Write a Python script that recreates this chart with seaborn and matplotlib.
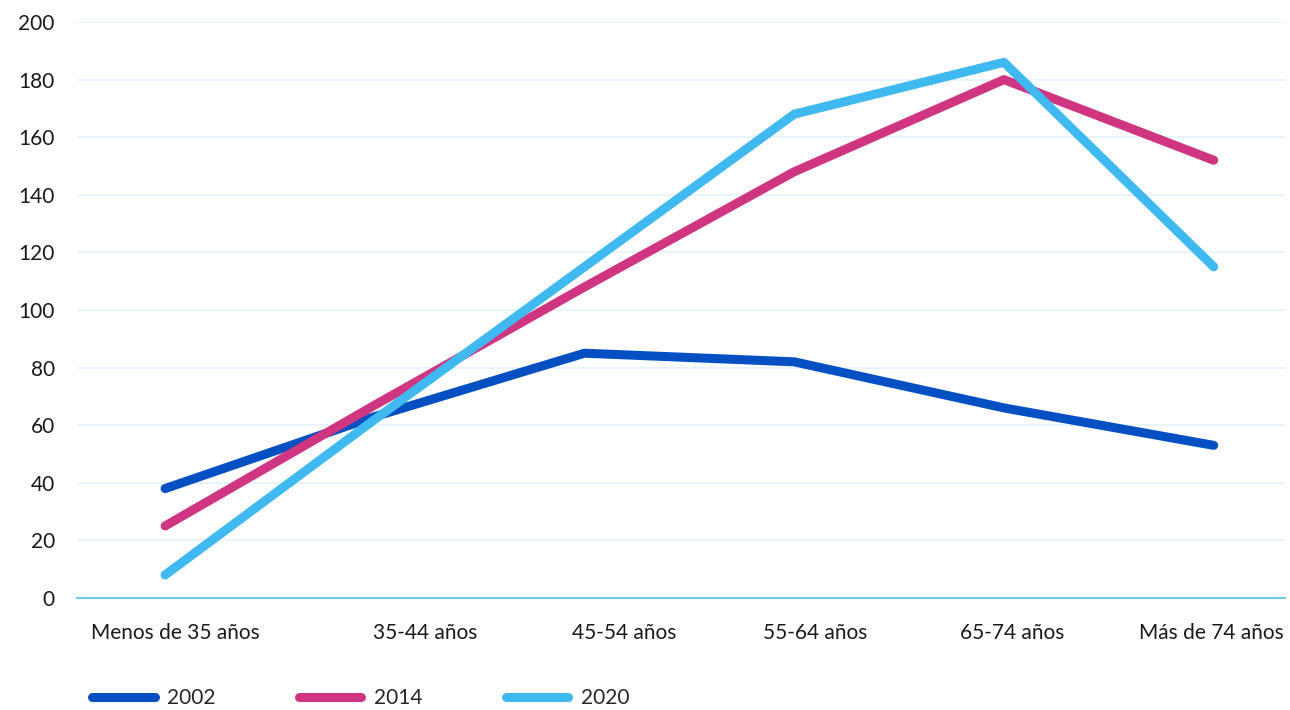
import pandas as pd
import numpy as np
import matplotlib
matplotlib.use("Agg")
import matplotlib.pyplot as plt
import seaborn as sns

# Data
age_groups = ["Menos de 35 años", "35-44 años", "45-54 años", "55-64 años", "65-74 años", "Más de 74 años"]
years = ["2002", "2014", "2020"]
vals_2002 = [38, 63, 85, 82, 66, 53]
vals_2014 = [25, 67, 108, 148, 180, 152]
vals_2020 = [8, 62, 115, 168, 186, 115]
y_ticks = [0, 20, 40, 60, 80, 100, 120, 140, 160, 180, 200]

colors = {"2002": "#0450c2", "2014": "#d03582", "2020": "#40b9f0"}

df = pd.DataFrame({
    "pos": list(range(len(age_groups))) * 3,
    "value": vals_2002 + vals_2014 + vals_2020,
    "year": [y for y in years for _ in age_groups],
})

sns.set_style("white")
plt.rcParams["font.family"] = ["Lato", "DejaVu Sans"]

fig = plt.figure(figsize=(12.9, 7.1), dpi=100)
ax = fig.add_axes([77 / 1290, 1 - 598 / 710, (1285 - 77) / 1290, (598 - 22) / 710])

sns.lineplot(data=df, x="pos", y="value", hue="year", palette=colors,
             linewidth=6.5, ax=ax, legend=False, sort=False)
for ln in ax.get_lines():
    ln.set_solid_capstyle("round")
    ln.set_solid_joinstyle("round")

ax.set_xlim(-0.42, 5.34)
ax.set_ylim(0, 200)
ax.set_yticks(y_ticks)
ax.set_yticklabels([str(t) for t in y_ticks], fontsize=15, color="#1a1a1a")
ax.yaxis.grid(True, color="#e3f2fb", linewidth=1.2)
ax.set_axisbelow(True)

# label centres sit a little off the data points in the original
ax.set_xticks([0.05, 1.24, 2.19, 3.10, 4.04, 4.99])
ax.set_xticklabels(age_groups, fontsize=15, color="#1a1a1a")
ax.tick_params(axis="x", length=0, pad=18)
ax.tick_params(axis="y", length=0, pad=16)
ax.set_xlabel("")
ax.set_ylabel("")

for side in ["top", "right", "left"]:
    ax.spines[side].set_visible(False)
ax.spines["bottom"].set_color("#6ccbf3")
ax.spines["bottom"].set_linewidth(1.5)

handles = [plt.Line2D([], [], color=colors[y], linewidth=6.5, solid_capstyle="round") for y in years]
fig.legend(handles, years, loc="center left", bbox_to_anchor=(92 / 1290, 1 - 698 / 710),
           ncol=3, frameon=False, fontsize=15, handlelength=3.0, handletextpad=0.6,
           columnspacing=4.0, borderpad=0, borderaxespad=0)

fig.savefig("out.png", dpi=100)
